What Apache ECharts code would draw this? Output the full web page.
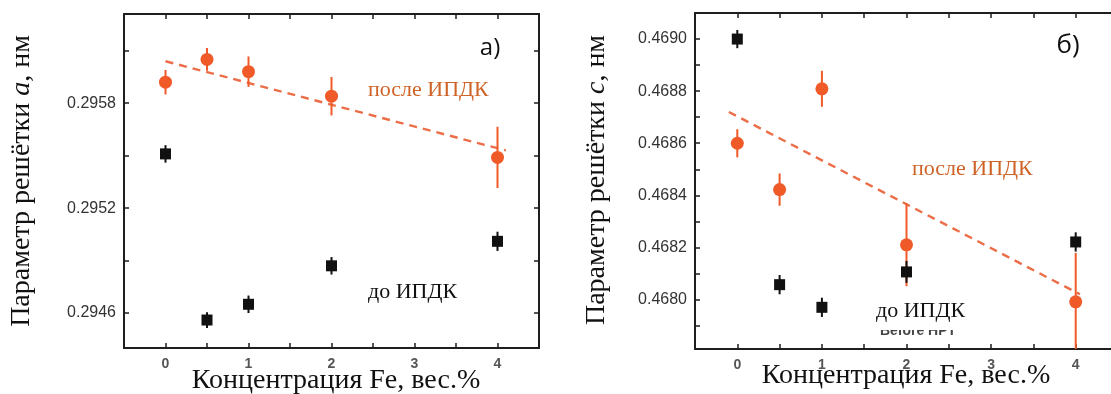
<!DOCTYPE html>
<html>
<head>
<meta charset="utf-8">
<script src="https://cdn.jsdelivr.net/npm/echarts@6/dist/echarts.min.js"></script>
<style>
  html, body { margin: 0; padding: 0; background: #fff; }
  #chart { width: 1111px; height: 394px; }
</style>
</head>
<body>
<div id="chart"></div>
<script>
// Fe concentration, wt.%
const feConc = [0, 0.5, 1, 2, 4];

// Lattice parameter a, nm (panel а)
const aBefore    = [0.29551, 0.29456, 0.29465, 0.29487, 0.29501];
const aBeforeErr = [0.00005, 0.000045, 0.00005, 0.00005, 0.000055];
const aAfter     = [0.29592, 0.29605, 0.29598, 0.29584, 0.29549];
const aAfterErr  = [0.00007, 0.000065, 0.000087, 0.00011, 0.000175];
const aTrendX    = [0, 4.1];
const aTrendY    = [0.29604, 0.29553];

// Lattice parameter c, nm (panel б)
const cBefore    = [0.46900, 0.468057, 0.46797, 0.468106, 0.468221];
const cBeforeErr = [0.000035, 0.000037, 0.000037, 0.000042, 0.000037];
const cAfter     = [0.46860, 0.468422, 0.468809, 0.468210, 0.467991];
const cAfterErr  = [0.000054, 0.000062, 0.000069, 0.000159, 0.000188];
const cTrendX    = [-0.1, 4.05];
const cTrendY    = [0.46872, 0.46802];

// Axis ticks and labels
const xTicks  = [0, 0.5, 1, 1.5, 2, 2.5, 3, 3.5, 4];
const xLabels = [0, 1, 2, 3, 4];
const aTicks  = [0.2946, 0.2949, 0.2952, 0.2955, 0.2958, 0.2961];
const aLabels = [0.2946, 0.2952, 0.2958];
const cTicks  = [0.4679, 0.4680, 0.4681, 0.4682, 0.4683, 0.4684, 0.4685, 0.4686, 0.4687, 0.4688, 0.4689, 0.4690];
const cLabels = [0.4680, 0.4682, 0.4684, 0.4686, 0.4688, 0.4690];

const ORANGE = '#f05a28';
const TREND  = '#eb6e48';
const BLACK  = '#111111';
const FRAME  = '#1e1e1e';
const SERIF  = '"Liberation Serif", "DejaVu Serif", serif';
const SANS   = '"Liberation Sans", Arial, sans-serif';

const chart = echarts.init(document.getElementById('chart'), null, { renderer: 'canvas' });

function xAxisPair(gridIndex) {
  const common = {
    gridIndex, type: 'value', min: -0.5, max: 4.5,
    axisLine: { show: true, onZero: false, lineStyle: { color: FRAME, width: 2 } },
    axisTick: { show: true, inside: true, length: 5, customValues: xTicks, lineStyle: { color: FRAME, width: 1.5 } },
    splitLine: { show: false }
  };
  return [
    Object.assign({}, common, {
      position: 'bottom',
      axisLabel: { customValues: xLabels, margin: 9, color: '#555', fontSize: 14, fontWeight: 'bold', fontFamily: SANS }
    }),
    Object.assign({}, common, { position: 'top', axisLabel: { show: false } })
  ];
}

function yAxisPair(gridIndex, min, max, ticks, labels) {
  const common = {
    gridIndex, type: 'value', min, max, scale: true,
    axisLine: { show: true, onZero: false, lineStyle: { color: FRAME, width: 2 } },
    axisTick: { show: true, inside: true, length: 5, customValues: ticks, lineStyle: { color: FRAME, width: 1.5 } },
    splitLine: { show: false }
  };
  return [
    Object.assign({}, common, {
      position: 'left',
      axisLabel: {
        customValues: labels, margin: 8, color: '#333', fontSize: 16, fontFamily: SANS,
        formatter: v => Number(v).toFixed(4)
      }
    }),
    Object.assign({}, common, { position: 'right', axisLabel: { show: false } })
  ];
}

function errorBars(xIdx, yIdx, values, errs, color, width) {
  return {
    type: 'custom', xAxisIndex: xIdx, yAxisIndex: yIdx, clip: true, z: 3,
    data: feConc.map((x, i) => [x, values[i], errs[i]]),
    encode: { x: 0, y: 1 },
    renderItem(params, api) {
      const x = api.value(0), y = api.value(1), e = api.value(2);
      const lo = api.coord([x, y - e]);
      const hi = api.coord([x, y + e]);
      return {
        type: 'line',
        shape: { x1: lo[0], y1: lo[1], x2: hi[0], y2: hi[1] },
        style: { stroke: color, lineWidth: width }
      };
    }
  };
}

function points(xIdx, yIdx, values, symbol, size, color) {
  return {
    type: 'scatter', xAxisIndex: xIdx, yAxisIndex: yIdx, z: 4,
    symbol, symbolSize: size,
    itemStyle: { color, opacity: 1 },
    data: feConc.map((x, i) => [x, values[i]])
  };
}

function trend(xIdx, yIdx, xs, ys) {
  return {
    type: 'line', xAxisIndex: xIdx, yAxisIndex: yIdx, z: 2,
    symbol: 'none', silent: true,
    lineStyle: { color: TREND, width: 2.4, type: [8, 6] },
    data: xs.map((x, i) => [x, ys[i]])
  };
}

const xa = xAxisPair(0), xb = xAxisPair(1);
const ya = yAxisPair(0, 0.2944, 0.29631, aTicks, aLabels);
const yb = yAxisPair(1, 0.46781, 0.46910, cTicks, cLabels);

chart.setOption({
  animation: false,
  backgroundColor: '#ffffff',
  grid: [
    { left: 124, top: 14, width: 415, height: 334, outerBoundsMode: 'none', containLabel: false },
    { left: 695, top: 13, width: 423, height: 336, outerBoundsMode: 'none', containLabel: false }
  ],
  xAxis: [xa[0], xa[1], xb[0], xb[1]],
  yAxis: [ya[0], ya[1], yb[0], yb[1]],
  series: [
    // panel а
    trend(0, 0, aTrendX, aTrendY),
    errorBars(0, 0, aAfter, aAfterErr, ORANGE, 2),
    errorBars(0, 0, aBefore, aBeforeErr, BLACK, 2),
    points(0, 0, aAfter, 'circle', 13, ORANGE),
    points(0, 0, aBefore, 'rect', 11, BLACK),
    // panel б
    trend(2, 2, cTrendX, cTrendY),
    errorBars(2, 2, cAfter, cAfterErr, ORANGE, 2),
    errorBars(2, 2, cBefore, cBeforeErr, BLACK, 2),
    points(2, 2, cAfter, 'circle', 13, ORANGE),
    points(2, 2, cBefore, 'rect', 11, BLACK)
  ],
  graphic: [
    // axis titles, panel а
    {
      type: 'text', x: 22, y: 181, rotation: Math.PI / 2,
      style: {
        text: 'Параметр решётки {it|a}, нм', font: '28px ' + SERIF, fill: '#111',
        align: 'center', verticalAlign: 'middle',
        rich: { it: { fontStyle: 'italic', fontSize: 28, fontFamily: SERIF } }
      }
    },
    {
      type: 'text', x: 336, y: 381,
      style: { text: 'Концентрация Fe, вес.%', font: '28px ' + SERIF, fill: '#111', align: 'center', verticalAlign: 'middle' }
    },
    // axis titles, panel б
    {
      type: 'text', x: 597, y: 180, rotation: Math.PI / 2,
      style: {
        text: 'Параметр решётки {it|c}, нм', font: '28px ' + SERIF, fill: '#111',
        align: 'center', verticalAlign: 'middle',
        rich: { it: { fontStyle: 'italic', fontSize: 28, fontFamily: SERIF } }
      }
    },
    {
      type: 'text', x: 906, y: 376,
      style: { text: 'Концентрация Fe, вес.%', font: '28px ' + SERIF, fill: '#111', align: 'center', verticalAlign: 'middle' }
    },
    // panel letters
    {
      type: 'text', x: 490, y: 48, z: 10,
      style: { text: 'а)', font: '24px "Open Sans", sans-serif', fill: '#111', align: 'center', verticalAlign: 'middle' }
    },
    {
      type: 'text', x: 1068, y: 46, z: 10,
      style: { text: 'б)', font: '26px "Open Sans", sans-serif', fill: '#111', align: 'center', verticalAlign: 'middle' }
    },
    // series annotations, panel а
    {
      type: 'text', x: 368, y: 90, z: 10,
      style: { text: 'после ИПДК', font: '22px ' + SERIF, fill: '#cf6327', align: 'left', verticalAlign: 'middle' }
    },
    {
      type: 'text', x: 368, y: 292, z: 10,
      style: { text: 'до ИПДК', font: '22px ' + SERIF, fill: '#111', align: 'left', verticalAlign: 'middle' }
    },
    // series annotations, panel б
    {
      type: 'text', x: 912, y: 169, z: 10,
      style: { text: 'после ИПДК', font: '22px ' + SERIF, fill: '#cf6327', align: 'left', verticalAlign: 'middle' }
    },
    {
      type: 'text', x: 918, y: 331, z: 9,
      style: { text: 'Before HPT', font: 'bold 14px ' + SANS, fill: '#444', align: 'center', verticalAlign: 'middle' }
    },
    {
      type: 'rect', z: 9, shape: { x: 872, y: 318, width: 95, height: 12 },
      style: { fill: '#ffffff' }
    },
    {
      type: 'text', x: 876, y: 311, z: 10,
      style: { text: 'до ИПДК', font: '22px ' + SERIF, fill: '#111', align: 'left', verticalAlign: 'middle' }
    }
  ]
});
</script>
</body>
</html>
